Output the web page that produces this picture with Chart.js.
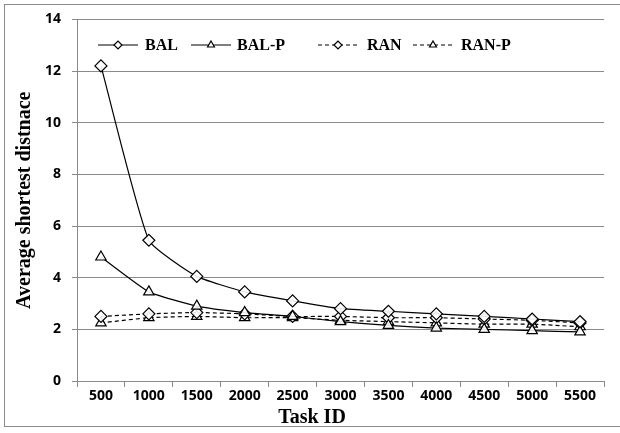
<!DOCTYPE html>
<html>
<head>
<meta charset="utf-8">
<script src="https://cdn.jsdelivr.net/npm/chart.js@4/dist/chart.umd.min.js"></script>
<style>
    body { margin: 0; background: #fff; }
    #wrap { position: relative; width: 620px; height: 433px; overflow: hidden; }
    #frame { position: absolute; left: 4px; top: 4px; width: 640px; height: 421px; border: 1px solid #8a8a8a; }
    canvas { position: absolute; left: 0; top: 0; }
</style>
</head>
<body>
<div id="wrap">
    <div id="frame"></div>
    <canvas id="grafico" width="620" height="433"></canvas>
</div>
<script>
// dados
const tarefas = ["500", "1000", "1500", "2000", "2500", "3000", "3500", "4000", "4500", "5000", "5500"];
const bal = [12.2, 5.45, 4.05, 3.45, 3.1, 2.8, 2.7, 2.6, 2.5, 2.4, 2.3];
const balP = [4.8, 3.45, 2.9, 2.65, 2.5, 2.3, 2.15, 2.05, 2.0, 1.95, 1.9];
const ran = [2.5, 2.6, 2.65, 2.6, 2.5, 2.5, 2.45, 2.45, 2.4, 2.35, 2.25];
const ranP = [2.25, 2.45, 2.5, 2.45, 2.45, 2.35, 2.3, 2.25, 2.2, 2.2, 2.1];
const yTicks = [0, 2, 4, 6, 8, 10, 12, 14];

function serie(label, data, estilo, tracejado) {
    return {
        label: label,
        data: data,
        borderColor: "#000",
        borderWidth: 1.2,
        borderDash: tracejado ? [4, 3] : [],
        backgroundColor: "#fff",
        pointStyle: estilo,
        pointRadius: 6,
        pointBorderColor: "#000",
        pointBorderWidth: 1.2,
        pointBackgroundColor: "rgba(255,255,255,0.9)",
        fill: false,
        tension: 0.15
    };
}

// legenda desenhada dentro da area do grafico + titulo do eixo x
const legendaInterna = {
    id: "legendaInterna",
    afterDraw(chart) {
        const ctx = chart.ctx;
        const y = 45;
        const itens = [
            { x: 98, texto: 145 },
            { x: 191, texto: 237 },
            { x: 318, texto: 367 },
            { x: 413, texto: 461 }
        ];
        ctx.save();
        chart.data.datasets.forEach((ds, i) => {
            const it = itens[i];
            ctx.strokeStyle = "#000";
            ctx.lineWidth = 1.2;
            ctx.setLineDash(ds.borderDash);
            ctx.beginPath();
            ctx.moveTo(it.x, y);
            ctx.lineTo(it.x + 40, y);
            ctx.stroke();
            ctx.setLineDash([]);
            ctx.fillStyle = "#fff";
            Chart.helpers.drawPoint(ctx, { pointStyle: ds.pointStyle, radius: 4, rotation: 0, borderWidth: 1 }, it.x + 20, y);
            ctx.fillStyle = "#000";
            ctx.font = "bold 16px 'Liberation Serif'";
            ctx.textBaseline = "middle";
            ctx.textAlign = "left";
            ctx.fillText(ds.label, it.texto, y + 1);
        });

        // titulo do eixo x (deslocado para a esquerda como no original)
        ctx.font = "bold 20px 'Liberation Serif'";
        ctx.textAlign = "center";
        ctx.textBaseline = "middle";
        ctx.fillText("Task ID", 312, 418);
        ctx.restore();
    }
};

const ctx = document.getElementById("grafico").getContext("2d");
new Chart(ctx, {
    type: "line",
    data: {
        labels: tarefas,
        datasets: [
            serie("BAL", bal, "rectRot", false),
            serie("BAL-P", balP, "triangle", false),
            serie("RAN", ran, "rectRot", true),
            serie("RAN-P", ranP, "triangle", true)
        ]
    },
    options: {
        responsive: false,
        animation: false,
        events: [],
        layout: { padding: { left: 0, top: 18, right: 16, bottom: 0 } },
        plugins: {
            legend: { display: false },
            tooltip: { enabled: false }
        },
        scales: {
            x: {
                offset: true,
                grid: { display: true, offset: true, drawOnChartArea: false, drawTicks: true, tickLength: 6, color: "#8a8a8a" },
                border: { display: true, color: "#8a8a8a", width: 1 },
                ticks: { color: "#000", font: { family: "Open Sans", size: 14, weight: "bold" }, padding: 1, maxRotation: 0 },
                afterFit(scale) { scale.height = 52; }
            },
            y: {
                min: 0,
                max: 14,
                afterBuildTicks(scale) { scale.ticks = yTicks.map(v => ({ value: v })); },
                grid: { color: "#8a8a8a", lineWidth: 1, drawTicks: true, tickLength: 5 },
                border: { display: true, color: "#8a8a8a", width: 1 },
                ticks: { color: "#000", font: { family: "Open Sans", size: 14, weight: "bold" }, padding: 11 },
                title: {
                    display: true,
                    text: "Average shortest distnace",
                    color: "#000",
                    font: { family: "Liberation Serif", size: 20, weight: "bold" },
                    padding: { top: 13, bottom: 0 }
                },
                afterFit(scale) { scale.width = 77; }
            }
        }
    },
    plugins: [legendaInterna]
});
</script>
</body>
</html>
